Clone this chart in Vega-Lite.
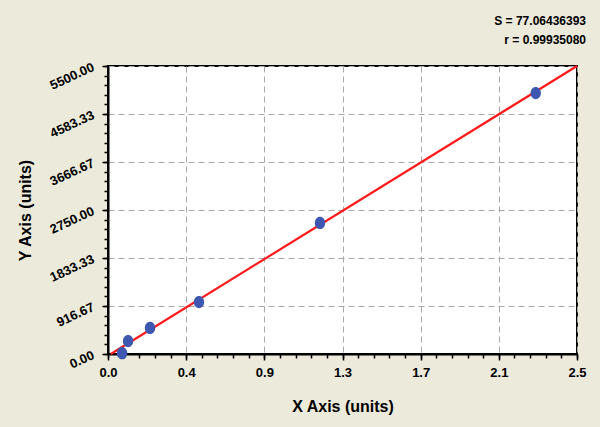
{
  "$schema": "https://vega.github.io/schema/vega-lite/v6.json",
  "width": 469,
  "height": 288,
  "autosize": "none",
  "padding": {"left": 108, "top": 66, "right": 23, "bottom": 73},
  "background": "#ECEADB",
  "title": {
    "text": ["S = 77.06436393", "r = 0.99935080"],
    "anchor": "end",
    "align": "right",
    "fontSize": 12,
    "fontWeight": "bold",
    "font": "Liberation Sans",
    "color": "#000000",
    "lineHeight": 19,
    "offset": 14
  },
  "config": {
    "view": {"stroke": "#000000", "strokeWidth": 2, "fill": "#FFFFFF"},
    "axis": {"labelFont": "Liberation Sans", "titleFont": "Liberation Sans", "labelColor": "#000000", "titleColor": "#000000"}
  },
  "datasets": {
    "pts": [
      {"x": 0.075, "y": 15},
      {"x": 0.107, "y": 248},
      {"x": 0.224, "y": 497},
      {"x": 0.485, "y": 993},
      {"x": 1.13, "y": 2502},
      {"x": 2.28, "y": 4984}
    ],
    "fit": [
      {"x": 0.015, "y": 0},
      {"x": 2.5, "y": 5500}
    ]
  },
  "layer": [
    {
      "data": {"name": "fit"},
      "mark": {"type": "line", "color": "#FF1A1A", "strokeWidth": 2.2},
      "encoding": {
        "x": {"field": "x", "type": "quantitative", "scale": {"domain": [0, 2.5], "nice": false, "zero": false},
          "axis": {"orient": "bottom", "values": [0,0.08333,0.16667,0.25,0.33333,0.41667,0.5,0.58333,0.66667,0.75,0.83333,0.91667,1,1.08333,1.16667,1.25,1.33333,1.41667,1.5,1.58333,1.66667,1.75,1.83333,1.91667,2,2.08333,2.16667,2.25,2.33333,2.41667,2.5],
            "labels": false, "title": null, "grid": false, "domain": false, "tickSize": 4, "tickColor": "#000000", "tickWidth": 1.5}},
        "y": {"field": "y", "type": "quantitative", "scale": {"domain": [0, 5500], "nice": false, "zero": false},
          "axis": {"orient": "left", "values": [0,183.333,366.667,550,733.333,916.667,1100,1283.333,1466.667,1650,1833.333,2016.667,2200,2383.333,2566.667,2750,2933.333,3116.667,3300,3483.333,3666.667,3850,4033.333,4216.667,4400,4583.333,4766.667,4950,5133.333,5316.667,5500],
            "labels": false, "title": null, "grid": false, "domain": false, "tickSize": 4, "tickColor": "#000000", "tickWidth": 1.5}}
      }
    },
    {
      "data": {"name": "pts"},
      "mark": {"type": "point", "filled": true, "shape": "M-0.85,0a0.85,1,0,1,0,1.7,0a0.85,1,0,1,0,-1.7,0", "size": 150, "color": "#3E58B2", "opacity": 1},
      "encoding": {
        "x": {"field": "x", "type": "quantitative", "scale": {"domain": [0, 2.5], "nice": false, "zero": false},
          "axis": {"orient": "bottom", "values": [0, 0.4166667, 0.8333333, 1.25, 1.6666667, 2.0833333, 2.5],
            "labelExpr": "['0.0','0.4','0.9','1.3','1.7','2.1','2.5'][round(datum.value*2.4)]",
            "labelFontSize": 13, "labelFontWeight": "bold", "labelPadding": 6, "labelFlush": false, "labelOverlap": false,
            "tickSize": 6, "tickColor": "#000000", "tickWidth": 1.5,
            "domainColor": "#000000", "domainWidth": 2,
            "grid": true, "gridColor": "#A8A8A8", "gridDash": [6, 4], "gridWidth": 1,
            "title": "X Axis (units)", "titleFontSize": 16, "titleFontWeight": "bold", "titlePadding": 19}},
        "y": {"field": "y", "type": "quantitative", "scale": {"domain": [0, 5500], "nice": false, "zero": false},
          "axis": {"orient": "left", "values": [0, 916.6666667, 1833.3333333, 2750, 3666.6666667, 4583.3333333, 5500],
            "format": ".2f", "labelAngle": -25, "labelFontSize": 13, "labelFontWeight": "bold", "labelPadding": 9, "labelFlush": false, "labelOverlap": false,
            "tickSize": 6, "tickColor": "#000000", "tickWidth": 1.5,
            "domainColor": "#000000", "domainWidth": 2,
            "grid": true, "gridColor": "#A8A8A8", "gridDash": [6, 4], "gridWidth": 1,
            "title": "Y Axis (units)", "titleFontSize": 16, "titleFontWeight": "bold", "titleX": -83, "titleY": 144, "titleAngle": -90, "titleBaseline": "middle"}}
      }
    }
  ],
  "resolve": {"axis": {"x": "independent", "y": "independent"}}
}
